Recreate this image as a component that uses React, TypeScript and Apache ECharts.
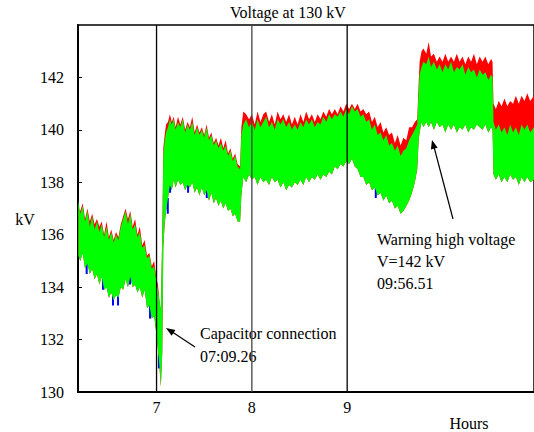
import { useEffect, useRef } from "react";
import * as echarts from "echarts";

// Time axis (hours) and envelope values (kV)
const hours = [
  // before the capacitor connection
  6.18, 6.2, 6.225, 6.25, 6.275, 6.3, 6.325, 6.35, 6.375, 6.4, 6.425, 6.45, 6.475, 6.5, 6.525, 6.55, 6.575, 6.6, 6.625, 6.65,
  6.675, 6.7, 6.725, 6.75, 6.775, 6.8, 6.825, 6.85, 6.875, 6.9, 6.925, 6.95, 6.975, 7.0, 7.015, 7.03, 7.045,
  // after the capacitor connection
  7.06, 7.071, 7.085, 7.1, 7.12, 7.14, 7.16, 7.18, 7.2, 7.225, 7.25, 7.275, 7.3, 7.325, 7.35, 7.375, 7.4, 7.425, 7.45, 7.475,
  7.5, 7.525, 7.55, 7.575, 7.6, 7.625, 7.65, 7.675, 7.7, 7.725, 7.75, 7.775, 7.8, 7.825, 7.85, 7.877,
  // plateau
  7.89, 7.91, 7.94, 7.97, 8.0, 8.03, 8.06, 8.09, 8.12, 8.15, 8.18, 8.21, 8.24, 8.27, 8.3, 8.33, 8.36, 8.39, 8.42, 8.45,
  8.48, 8.51, 8.54, 8.57, 8.6, 8.63, 8.66, 8.69, 8.72, 8.75, 8.78, 8.81, 8.84, 8.87, 8.9, 8.93, 8.96, 8.99, 9.02, 9.05,
  9.08, 9.11, 9.14, 9.17, 9.2, 9.23, 9.26, 9.29, 9.32, 9.35, 9.38, 9.41, 9.44, 9.47, 9.5, 9.53, 9.56, 9.59, 9.62, 9.65,
  9.68, 9.71, 9.735,
  // high-voltage hump
  9.75, 9.76, 9.78, 9.8, 9.83, 9.855, 9.88, 9.91, 9.94, 9.97, 10.0, 10.03, 10.06, 10.09, 10.12, 10.15, 10.18, 10.21, 10.24, 10.27,
  10.3, 10.33, 10.36, 10.39, 10.42, 10.45, 10.48, 10.51, 10.525,
  // after the drop
  10.535, 10.56, 10.59, 10.62, 10.65, 10.68, 10.71, 10.74, 10.77, 10.8, 10.83, 10.86, 10.89, 10.92, 10.96,
];
const greenHigh = [
  137.3, 136.8, 137.1, 136.5, 136.9, 136.3, 136.7, 136.2, 136.5, 136.1, 136.4, 135.9, 136.3, 135.8, 136.1, 135.7, 136.0, 135.8, 136.3, 136.6,
  136.9, 136.4, 136.8, 136.2, 136.4, 135.9, 136.1, 135.5, 135.6, 135.1, 135.2, 134.7, 134.8, 134.2, 133.9, 133.5, 133.1,
  136.0, 139.0, 139.6, 139.9, 140.1, 140.4, 140.2, 140.4, 140.0, 140.3, 140.1, 140.4, 139.9, 140.2, 140.0, 140.3, 139.8, 140.1, 139.8, 140.0,
  139.7, 140.1, 139.6, 139.8, 139.4, 139.6, 139.3, 139.5, 139.2, 139.4, 139.0, 139.2, 138.8, 139.0, 138.6, 138.5,
  139.8, 140.2, 140.4, 140.1, 140.3, 140.0, 140.4, 140.1, 140.3, 140.5, 140.1, 140.3, 140.0, 140.4, 140.2, 140.4, 140.1, 140.3, 140.0, 140.2,
  140.0, 140.3, 140.1, 140.4, 140.2, 140.4, 140.1, 140.3, 140.2, 140.5, 140.3, 140.6, 140.4, 140.6, 140.5, 140.7, 140.5, 140.8, 140.6, 140.9,
  140.7, 140.8, 140.5, 140.6, 140.3, 140.4, 140.0, 140.2, 139.8, 139.9, 139.6, 139.8, 139.4, 139.5, 139.2, 139.4, 139.0, 139.2, 139.3, 139.6,
  139.8, 140.0, 140.2,
  141.5, 142.1, 142.4, 142.6, 142.5, 142.8, 142.4, 142.6, 142.3, 142.5, 142.2, 142.5, 142.3, 142.6, 142.2, 142.4, 142.3, 142.5, 142.1, 142.4,
  142.2, 142.3, 142.0, 142.3, 142.1, 142.2, 141.9, 142.1, 142.0,
  140.3, 140.0, 140.2, 139.9, 140.1, 139.8, 140.2, 139.9, 140.1, 139.8, 140.2, 140.0, 140.2, 139.9, 140.1,
];
const greenLow = [
  135.2, 135.0, 135.3, 134.7, 134.9, 134.5, 134.7, 134.3, 134.5, 134.1, 134.4, 133.9, 134.0, 133.6, 133.8, 133.5, 133.7, 133.6, 134.0, 133.9,
  134.3, 134.0, 134.4, 134.0, 134.1, 133.8, 134.0, 133.6, 133.9, 133.2, 133.3, 132.8, 132.9, 132.2, 131.6, 131.0, 130.2,
  131.5, 135.5, 136.4, 136.9, 137.4, 137.9, 137.7, 138.1, 137.8, 138.1, 137.9, 138.0, 137.7, 137.9, 137.8, 138.0, 137.6, 137.8, 137.5, 137.8,
  137.5, 137.7, 137.3, 137.6, 137.2, 137.4, 137.1, 137.3, 137.0, 137.2, 136.9, 137.0, 136.7, 136.8, 136.5, 136.5,
  137.5, 138.2, 138.0, 138.3, 138.1, 138.2, 137.9, 138.2, 138.0, 138.1, 137.9, 138.2, 138.0, 138.1, 137.8, 138.0, 137.7, 137.9, 137.8, 138.0,
  137.9, 138.1, 137.9, 138.2, 138.0, 138.2, 138.1, 138.3, 138.1, 138.3, 138.2, 138.4, 138.3, 138.6, 138.5, 138.7, 138.6, 138.8, 138.7, 138.9,
  138.6, 138.5, 138.2, 138.2, 137.9, 138.0, 137.7, 137.8, 137.5, 137.6, 137.3, 137.5, 137.2, 137.3, 137.0, 137.1, 136.8, 136.9, 137.1, 137.3,
  137.6, 138.0, 138.5,
  139.6, 139.9, 140.3, 140.1, 140.3, 140.1, 140.3, 140.0, 140.3, 140.1, 140.2, 139.9, 140.2, 140.0, 140.2, 139.9, 140.1, 140.0, 140.2, 139.9,
  140.1, 140.0, 140.2, 140.1, 140.0, 140.2, 139.9, 140.1, 140.0,
  138.3, 138.1, 138.3, 138.0, 138.2, 138.0, 138.3, 138.1, 138.2, 137.9, 138.2, 138.0, 138.2, 138.0, 138.1,
];
const redHigh = [
  137.0, 136.9, 137.2, 136.6, 137.0, 136.5, 136.8, 136.4, 136.6, 136.3, 136.5, 136.0, 136.5, 135.9, 136.2, 135.8, 136.1, 135.9, 136.4, 136.7,
  137.0, 136.6, 136.9, 136.3, 136.6, 136.0, 136.3, 135.6, 135.8, 135.2, 135.3, 134.8, 135.0, 134.3, 134.1, 133.5, 133.1,
  136.0, 139.3, 139.8, 140.2, 140.3, 140.6, 140.3, 140.5, 140.1, 140.5, 140.2, 140.5, 140.0, 140.3, 140.1, 140.5, 139.9, 140.2, 139.9, 140.1,
  139.8, 140.2, 139.7, 139.9, 139.5, 139.7, 139.4, 139.7, 139.3, 139.6, 139.1, 139.3, 138.9, 139.1, 138.7, 138.6,
  140.1, 140.7, 140.6, 140.4, 140.6, 140.2, 140.7, 140.3, 140.6, 140.7, 140.3, 140.6, 140.2, 140.7, 140.4, 140.6, 140.3, 140.6, 140.2, 140.5,
  140.2, 140.6, 140.3, 140.7, 140.4, 140.6, 140.3, 140.6, 140.4, 140.7, 140.5, 140.8, 140.6, 140.8, 140.6, 140.9, 140.7, 141.0, 140.8, 141.0,
  140.8, 141.0, 140.7, 140.8, 140.6, 140.7, 140.3, 140.5, 140.1, 140.3, 139.9, 140.1, 139.8, 139.9, 139.5, 139.8, 139.4, 139.7, 139.6, 140.1,
  140.1, 140.3, 140.4,
  141.8, 142.6, 143.0, 143.1, 142.9, 143.35, 142.8, 142.9, 142.6, 142.8, 142.6, 142.9, 142.6, 142.8, 142.6, 142.9, 142.6, 142.8, 142.5, 142.8,
  142.6, 142.9, 142.5, 142.8, 142.6, 142.8, 142.5, 142.7, 142.6,
  141.0, 140.8, 141.1, 140.9, 141.2, 140.9, 141.1, 141.0, 141.3, 141.0, 141.3, 141.1, 141.4, 141.1, 141.3,
];
// Blue trace: only small patches poke out below the green trace
const blueHours = [6.267, 6.438, 6.543, 6.596, 6.722, 6.932, 7.025, 7.118, 7.142, 7.331, 7.527, 9.3];
const blueLow = [134.5, 133.9, 133.3, 133.3, 134.1, 132.8, 130.9, 136.8, 137.6, 137.6, 137.4, 137.4];
const blueHigh = [135.0, 134.4, 133.8, 133.8, 134.6, 133.3, 131.4, 137.4, 138.0, 138.0, 137.8, 137.8];

const yTickLabels = [130, 132, 134, 136, 138, 140, 142];
const xTickLabels = [7, 8, 9];
const markerHours = [7, 8, 9];

const FONT = "Liberation Serif";

function bandSeries(name: string, color: string, ts: number[], lo: number[], hi: number[], z: number) {
  const data = ts.map((t, i) => [t, lo[i], hi[i]]);
  return {
    type: "custom",
    name,
    z,
    silent: true,
    data,
    encode: { x: 0, y: [1, 2] },
    renderItem: (params: any, api: any) => {
      if (params.dataIndex !== 0) return null;
      const upper = data.map((d) => api.coord([d[0], d[2]]));
      const lower = data.map((d) => api.coord([d[0], d[1]])).reverse();
      return {
        type: "polygon",
        shape: { points: upper.concat(lower) },
        style: { fill: color },
      };
    },
  };
}

export default function App() {
  const ref = useRef<HTMLDivElement>(null);
  useEffect(() => {
    if (!ref.current) return;
    const chart = echarts.init(ref.current, undefined, { renderer: "svg" });
    chart.setOption({
      animation: false,
      backgroundColor: "#fff",
      title: {
        text: "Voltage at 130 kV",
        left: 230,
        top: 4,
        padding: 0,
        textStyle: { fontFamily: FONT, fontSize: 16, fontWeight: "normal", color: "#000" },
      },
      grid: {
        left: 78,
        right: 0,
        top: 25,
        bottom: 40,
        show: true,
        borderColor: "#000",
        borderWidth: 1.5,
        backgroundColor: "transparent",
      },
      xAxis: {
        type: "value",
        min: 6.176,
        max: 10.96,
        axisLine: { show: true, onZero: false, lineStyle: { color: "#000", width: 2 } },
        axisTick: { show: false },
        splitLine: { show: false },
        axisLabel: { customValues: xTickLabels, margin: 7, fontFamily: FONT, fontSize: 16, color: "#000" },
      },
      yAxis: {
        type: "value",
        min: 130,
        max: 144,
        interval: 2,
        axisLine: { show: true, onZero: false, lineStyle: { color: "#000", width: 2 } },
        axisTick: { show: true, inside: true, length: 4, customValues: yTickLabels, lineStyle: { color: "#000" } },
        splitLine: { show: false },
        axisLabel: { customValues: yTickLabels, margin: 14, fontFamily: FONT, fontSize: 16, color: "#000" },
      },
      series: [
        bandSeries("Red", "#ff0000", hours, greenLow, redHigh, 2),
        {
          type: "custom",
          name: "Blue",
          z: 2,
          silent: true,
          data: blueHours.map((t, i) => [t, blueLow[i], blueHigh[i]]),
          encode: { x: 0, y: [1, 2] },
          renderItem: (params: any, api: any) => {
            const a = api.coord([api.value(0), api.value(1)]);
            const b = api.coord([api.value(0), api.value(2)]);
            return {
              type: "rect",
              shape: { x: a[0] - 1, y: b[1], width: 2, height: a[1] - b[1] },
              style: { fill: "#0000ff" },
            };
          },
        },
        bandSeries("Green", "#00ff00", hours, greenLow, greenHigh, 3),
        {
          type: "custom",
          name: "markers",
          z: 5,
          silent: true,
          data: markerHours.map((h) => [h]),
          encode: { x: 0 },
          renderItem: (params: any, api: any) => {
            const h = api.value(0);
            const a = api.coord([h, 130]);
            const b = api.coord([h, 144]);
            return {
              type: "line",
              shape: { x1: a[0], y1: a[1], x2: b[0], y2: b[1] },
              style: { stroke: h === 8 ? "#444" : "#000", lineWidth: 1.3 },
            };
          },
        },
      ],
      graphic: [
        { type: "text", x: 25, y: 219, style: { text: "kV", fontFamily: FONT, fontSize: 16, fill: "#000", textAlign: "center", textVerticalAlign: "middle" } },
        { type: "text", x: 469, y: 423, style: { text: "Hours", fontFamily: FONT, fontSize: 16, fill: "#000", textAlign: "center", textVerticalAlign: "middle" } },
        { type: "text", x: 200, y: 333, style: { text: "Capacitor connection", fontFamily: FONT, fontSize: 16, fill: "#000", textAlign: "left", textVerticalAlign: "middle" } },
        { type: "text", x: 200, y: 356, style: { text: "07:09.26", fontFamily: FONT, fontSize: 16, fill: "#000", textAlign: "left", textVerticalAlign: "middle" } },
        { type: "text", x: 377, y: 239, style: { text: "Warning high voltage", fontFamily: FONT, fontSize: 16, fill: "#000", textAlign: "left", textVerticalAlign: "middle" } },
        { type: "text", x: 377, y: 261, style: { text: "V=142 kV", fontFamily: FONT, fontSize: 16, fill: "#000", textAlign: "left", textVerticalAlign: "middle" } },
        { type: "text", x: 377, y: 283, style: { text: "09:56.51", fontFamily: FONT, fontSize: 16, fill: "#000", textAlign: "left", textVerticalAlign: "middle" } },
        { type: "line", z: 10, shape: { x1: 195, y1: 347, x2: 170, y2: 330.6 }, style: { stroke: "#000", lineWidth: 1.2 } },
        { type: "polygon", z: 10, shape: { points: [[166, 328], [175.4, 330.0], [171.6, 335.8]] }, style: { fill: "#000" } },
        { type: "line", z: 10, shape: { x1: 453, y1: 219, x2: 433.5, y2: 145 }, style: { stroke: "#000", lineWidth: 1.2 } },
        { type: "polygon", z: 10, shape: { points: [[432, 140], [437.7, 147.8], [430.9, 149.6]] }, style: { fill: "#000" } },
      ],
    });
    return () => chart.dispose();
  }, []);
  return <div ref={ref} style={{ position: "fixed", left: 0, top: 0, width: 534, height: 432 }} />;
}
